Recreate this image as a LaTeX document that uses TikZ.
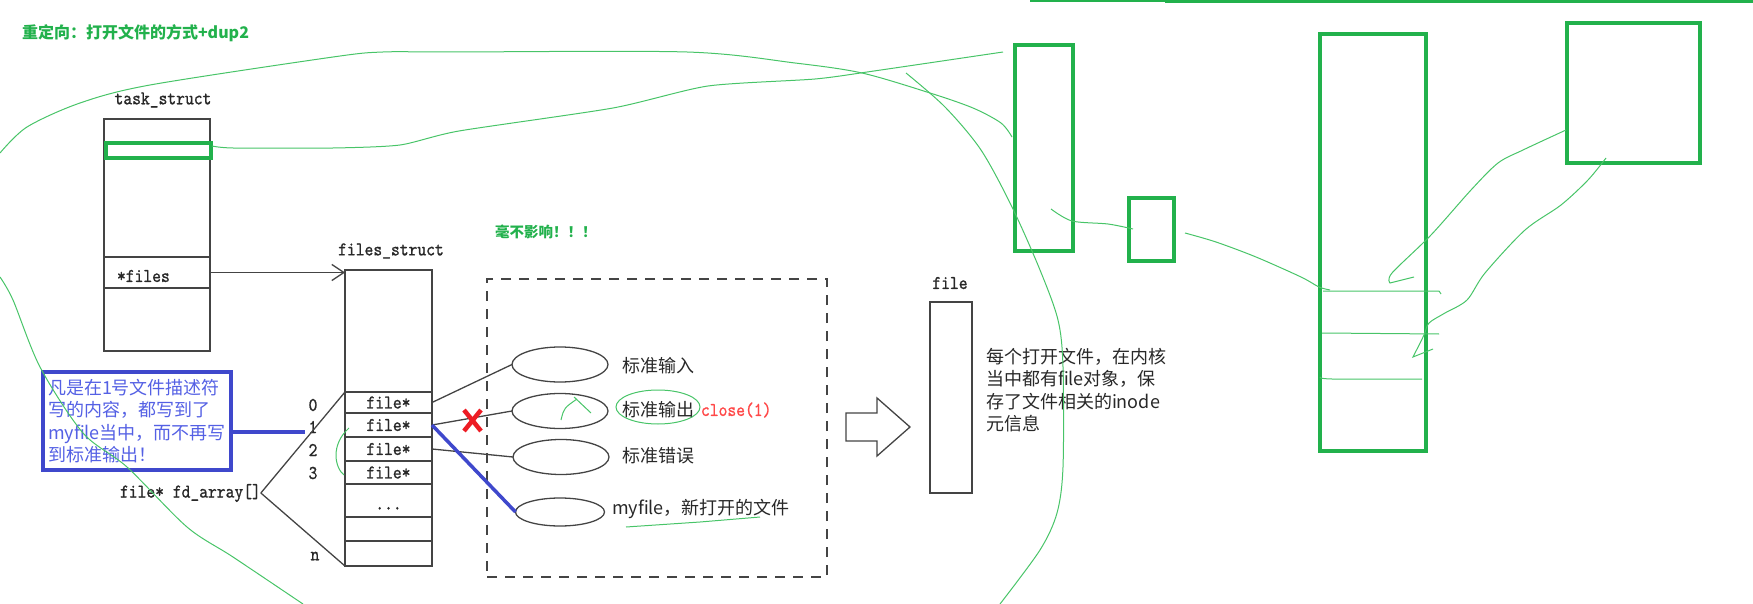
\documentclass[tikz,border=0pt]{standalone}
\usepackage{fontspec}
\newfontfamily\cjk{Noto Sans CJK SC}
\newfontfamily\monof{lmmono10-regular.otf}[FakeBold=1, FakeStretch=0.86]
\usetikzlibrary{arrows.meta,shapes.geometric}
\definecolor{pg}{RGB}{34,177,76}
\definecolor{lg}{RGB}{72,196,104}
\definecolor{ink}{RGB}{68,68,68}
\definecolor{txt}{RGB}{40,40,40}
\definecolor{nb}{RGB}{63,72,204}
\definecolor{nbt}{RGB}{84,96,228}
\definecolor{rx}{RGB}{237,28,36}
\definecolor{rt}{RGB}{255,72,72}
\begin{document}
\begin{tikzpicture}[x=1pt,y=-1pt,
  every node/.style={inner sep=0pt, outer sep=0pt},
  inkl/.style={draw=ink, line width=1.3pt},
  mono/.style={font=\monof\fontsize{19.5}{22}\selectfont, text=txt},
  cjkt/.style={font=\cjk\fontsize{18}{22.5}\selectfont, text=txt},
  gtitle/.style={font=\cjk\bfseries\fontsize{16}{19}\selectfont, text=pg},
  cell/.style={inkl, mono, minimum width=87pt, anchor=north west},
  ell/.style={inkl, ellipse, minimum width=96pt, minimum height=35pt},
  gbox/.style={draw=pg, line width=4pt, anchor=north west},
  gthin/.style={draw=lg, line width=1pt},
  bline/.style={draw=nb, line width=3.5pt},
  barb/.style={-{Straight Barb[length=12pt,width=16pt]}}]
\useasboundingbox (0,0) rectangle (1753,604);

% titles
\node[gtitle, anchor=west] (title) at (22,33) {重定向：打开文件的方式+dup2};
\node[gtitle, font=\cjk\bfseries\fontsize{14.5}{17}\selectfont, anchor=west] (nothing) at (495,232) {毫不影响！！！};

% task_struct
\node[mono] (tasklbl) at (163,100) {task\_struct};
\node[inkl, minimum width=106pt, minimum height=232pt, anchor=north west] (task) at (104,119) {};
\node[inkl, minimum width=106pt, minimum height=31pt, anchor=north west] (files) at (104,257) {};
\node[mono, anchor=west] (fileslbl) at (117,276) {*files};
\node[gbox, minimum width=105pt, minimum height=15pt] (tg) at (106,143) {};

% files_struct
\node[mono] (fslbl) at (391,251) {files\_struct};
\node[cell, minimum height=122pt] (fstop) at (345,270) {};
\node[cell, minimum height=21pt] (r0) at (345,392) {file*};
\node[cell, minimum height=24pt] (r1) at (345,413) {file*};
\node[cell, minimum height=24pt] (r2) at (345,437) {file*};
\node[cell, minimum height=23pt] (r3) at (345,461) {file*};
\node[cell, minimum height=33pt] (rd) at (345,484) {\raisebox{-9pt}[0pt][0pt]{...}};
\node[cell, minimum height=24pt] (re1) at (345,517) {};
\node[cell, minimum height=25pt] (re2) at (345,541) {};

\draw[inkl, barb] (files.east) -- (files.east -| fstop.west);

% indices
\node[mono] (l0) at (313,405) {0};
\node[mono] (l1) at (313,427) {1};
\node[mono] (l2) at (313,450) {2};
\node[mono] (l3) at (313,473) {3};
\node[mono] (ln) at (315,556) {n};
\node[mono, anchor=west] (fd) at (120,493) {file* fd\_array[]};
\draw[inkl] (fd.east) -- (r0.north west);
\draw[inkl] (fd.east) -- (re2.south west);

% note
\node[draw=nb, line width=3.5pt, minimum width=188pt, minimum height=98pt, anchor=north west,
      inner xsep=5pt, text width=178pt, align=left, font=\cjk\fontsize{18}{22.5}\selectfont, text=nbt]
      (note) at (43,372) {凡是在1号文件描述符\\写的内容，都写到了\\myfile当中，而不再写\\到标准输出！};
\coordinate (nend) at (305,432);
\draw[bline] (note.east |- nend) -- (nend);

% dashed region
\node[draw=ink, line width=1.3pt, dash pattern=on 10pt off 8pt, minimum width=340pt, minimum height=298pt, anchor=north west] (region) at (487,279) {};
\node[ell] (e0) at (560,364.5) {};
\node[ell] (e1) at (560,411) {};
\node[ell] (e2) at (561,457) {};
\node[ell, minimum width=89pt, minimum height=28pt] (e3) at (560,512) {};
\node[cjkt, anchor=west] (t0) at (622,366) {标准输入};
\node[cjkt, anchor=west] (t1) at (622,410) {标准输出};
\node[mono, text=rt, anchor=west] (cl) at (701,410) {close(1)};
\node[cjkt, anchor=west] (t2) at (622,456) {标准错误};
\node[cjkt, anchor=west] (t3) at (612,509) {myfile，新打开的文件};

\draw[inkl] (r0.east) -- (e0.west);
\draw[inkl] (r1.east) -- (e1.west);
\draw[inkl] (r2.east) -- (e2.west);
\draw[bline] (r1.east) -- (e3.west);
\draw[draw=rx, line width=4.5pt] (464,410) -- (481,431) (481,410) -- (464,431);

% file object
\draw[inkl, fill=white] (846,413) -- (877,413) -- (877,398) -- (910,427) -- (877,456) -- (877,441) -- (846,441) -- cycle;
\node[mono] (filelbl) at (950,283) {file};
\node[inkl, minimum width=42pt, minimum height=191pt, anchor=north west] (fobj) at (930,302) {};
\node[cjkt, anchor=north west, align=left] (desc) at (986,348) {每个打开文件，在内核\\当中都有file对象，保\\存了文件相关的inode\\元信息};

% green boxes right
\node[gbox, minimum width=58pt, minimum height=206pt] (ga) at (1015,45) {};
\node[gbox, minimum width=45pt, minimum height=63pt] (gb) at (1129,198) {};
\node[gbox, minimum width=106pt, minimum height=417pt] (gc) at (1320,34) {};
\node[gbox, minimum width=133pt, minimum height=140pt] (gd) at (1567,23) {};
\draw[draw=pg, line width=1.5pt] (1030,0.8) -- (1165,0.8);
\draw[draw=pg, line width=3pt] (1165,1.5) -- (1753,1.5);

% hand-drawn green strokes
\draw[gthin] plot[smooth, tension=0.5] coordinates {(0,153) (27,127) (80,103) (150,85) (333,57) (383,52) (450,52) (687,52) (795,63) (862,73) (930,93) (973,108) (1001,123) (1012,137)};
\draw[gthin] plot[smooth, tension=0.4] coordinates {(212,146) (233,148) (333,148) (400,145) (459,131) (613,108) (708,86) (815,79) (874,71) (1003,52)};
\draw[gthin] plot[smooth, tension=0.5] coordinates {(906,73) (945,107) (981,150) (1012,207) (1040,270) (1058,320) (1063,367) (1063,467) (1057,513) (1040,550) (1000,604)};
\draw[gthin] plot[smooth, tension=0.5] coordinates {(0,277) (13,300) (40,367) (83,433) (127,467) (187,527) (233,557) (303,604)};
\draw[gthin] plot[smooth, tension=0.5] coordinates {(1051,209) (1072,221) (1108,224) (1133,229)};
\draw[gthin] plot[smooth, tension=0.5] coordinates {(1185,233) (1216,242) (1256,257) (1301,277) (1319,287) (1330,290)};
\draw[gthin] (1323,291) -- (1439,291) -- (1441,294);
\draw[gthin] (1322,333) -- (1439,334);
\draw[gthin] plot[smooth, tension=0.5] coordinates {(1320,377) (1332,379) (1422,379)};
\draw[gthin] plot[smooth, tension=0.5] coordinates {(1566,130) (1523,150) (1498,163) (1471,190) (1431,235) (1392,273) (1390,283)} -- (1414,277);
\draw[gthin] plot[smooth, tension=0.5] coordinates {(1606,158) (1588,180) (1561,205) (1525,230) (1485,273) (1467,300) (1445,313) (1429,323) (1424,335) (1413,357)} -- (1433,349);
\draw[gthin] (658,407) ellipse [x radius=42pt, y radius=17pt];
\draw[gthin] (561,420) .. controls (564,408) .. (577,399);
\draw[gthin] (574,397) -- (591,413);
\draw[gthin] (626,527) -- (700,522) -- (760,517);
\draw[gthin] (349,428) .. controls (330,445) and (335,468) .. (344,475);
\end{tikzpicture}
\end{document}
